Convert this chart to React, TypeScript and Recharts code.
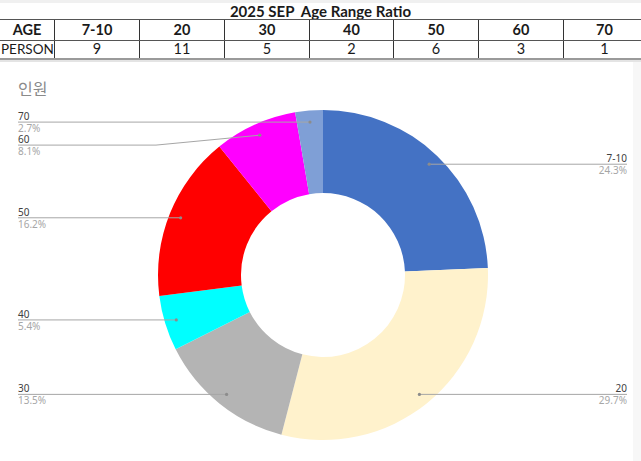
import React from "react";
import { Cell, Pie, PieChart } from "recharts";

const ages = ["7-10", "20", "30", "40", "50", "60", "70"];
const persons = [9, 11, 5, 2, 6, 3, 1];
const sliceColors = ["#4472C4", "#FFF2CC", "#B4B4B4", "#00FFFF", "#FF0000", "#FF00FF", "#7F9FD6"];

const W = 641;
const H = 461;
const CX = 323;
const CY = 275;
const OUTER = 165;
const INNER = 82;
const DOT_R = OUTER * 0.93;
const LEFT_X = 18;
const RIGHT_X = 627;
const GAP = 23;
const RAD = Math.PI / 180;

const data = ages.map((age, i) => ({ name: age, value: persons[i] }));
const total = persons.reduce((a, b) => a + b, 0);

// where each leader line starts and where its label sits
type LabelPos = { dx: number; dy: number; ly: number; right: boolean };
const labelPos: LabelPos[] = (() => {
  let acc = 0;
  const out: LabelPos[] = persons.map((v) => {
    const mid = ((acc + v / 2) / total) * 360; // clockwise from top
    acc += v;
    const dx = CX + DOT_R * Math.sin(mid * RAD);
    const dy = CY - DOT_R * Math.cos(mid * RAD);
    return { dx, dy, ly: dy, right: mid < 180 };
  });
  [true, false].forEach((side) => {
    const idx = out.map((p, i) => i).filter((i) => out[i].right === side);
    idx.sort((a, b) => out[a].dy - out[b].dy);
    let prev = -Infinity;
    idx.forEach((i) => {
      out[i].ly = Math.max(out[i].dy, prev + GAP);
      prev = out[i].ly;
    });
  });
  return out;
})();

const renderLabel = (props: any) => {
  const p = labelPos[props.index];
  if (!p) return null;
  const elbowX = p.right ? CX + OUTER + 2 : CX - OUTER - 2;
  const endX = p.right ? RIGHT_X : LEFT_X;
  const pct = ((persons[props.index] / total) * 100).toFixed(1) + "%";
  const anchor = p.right ? "end" : "start";
  return (
    <g key={`lbl-${props.index}`}>
      <polyline
        points={`${p.dx},${p.dy} ${elbowX},${p.ly} ${endX},${p.ly}`}
        fill="none"
        stroke="#a6a6a6"
        strokeWidth={1}
      />
      <circle cx={p.dx} cy={p.dy} r={1.6} fill="#8c8c8c" />
      <text x={endX} y={p.ly - 2} textAnchor={anchor} fontSize={10} fill="#404040" fontFamily="Noto Sans, sans-serif">
        {ages[props.index]}
      </text>
      <text x={endX} y={p.ly + 10} textAnchor={anchor} fontSize={10} fill="#a6a6a6" fontFamily="Noto Sans, sans-serif">
        {pct}
      </text>
    </g>
  );
};

const colLefts = [0, 55, 140, 225, 310, 394, 479, 564];
const colRight = 646;

const cellStyle = (i: number, top: number, h: number): React.CSSProperties => ({
  position: "absolute",
  left: colLefts[i],
  top,
  width: (i + 1 < colLefts.length ? colLefts[i + 1] : colRight) - colLefts[i],
  height: h,
  boxSizing: "border-box",
  borderRight: "1px solid #333",
  display: "flex",
  alignItems: "center",
  justifyContent: "center",
  fontSize: 14.5,
  lineHeight: 1,
});

export default function App() {
  return (
    <div
      style={{
        position: "fixed",
        left: 0,
        top: 0,
        width: W,
        height: H,
        background: "#fff",
        overflow: "hidden",
        fontFamily: "Lato, 'Noto Sans', sans-serif",
        color: "#1a1a1a",
      }}
    >
      <div style={{ position: "absolute", left: 0, top: 0, width: W, height: 3, background: "#f0f0f0" }} />
      <div style={{ position: "absolute", left: 633, top: 62, width: 8, height: H - 62, background: "#f7f7f7" }} />
      <div
        style={{
          position: "absolute",
          left: 0,
          top: 3,
          width: W,
          height: 17,
          textAlign: "center",
          fontWeight: 700,
          fontSize: 15,
          lineHeight: "17px",
        }}
      >
        2025 SEP&nbsp; Age Range Ratio
      </div>
      <div style={{ position: "absolute", left: 0, top: 19, width: W, height: 1, background: "#555" }} />
      <div style={{ position: "absolute", left: 0, top: 40, width: W, height: 1, background: "#555" }} />
      <div style={{ position: "absolute", left: 0, top: 58, width: W, height: 2, background: "#9a9a9a" }} />
      <div style={{ position: "absolute", left: 0, top: 60, width: W, height: 2, background: "#e4e4e4" }} />
      <div style={{ ...cellStyle(0, 20, 20), fontWeight: 700 }}>AGE</div>
      {ages.map((a, i) => (
        <div key={a} style={{ ...cellStyle(i + 1, 20, 20), fontWeight: 700 }}>
          {a}
        </div>
      ))}
      <div style={{ ...cellStyle(0, 41, 17), justifyContent: "flex-start", paddingLeft: 1, fontSize: 13.5 }}>PERSON</div>
      {persons.map((v, i) => (
        <div key={ages[i]} style={cellStyle(i + 1, 41, 17)}>
          {v}
        </div>
      ))}
      <div
        style={{
          position: "absolute",
          left: 18,
          top: 76,
          fontSize: 16,
          color: "#8a8a8a",
          fontFamily: "'Noto Sans CJK KR', sans-serif",
        }}
      >
        인원
      </div>
      <div style={{ position: "absolute", left: 0, top: 0 }}>
        <PieChart width={W} height={H} margin={{ top: 0, right: 0, bottom: 0, left: 0 }}>
          <Pie
            data={data}
            dataKey="value"
            nameKey="name"
            cx={CX}
            cy={CY}
            innerRadius={INNER}
            outerRadius={OUTER}
            startAngle={90}
            endAngle={-270}
            stroke="none"
            label={renderLabel}
            labelLine={false}
            isAnimationActive={false}
          >
            {data.map((d, i) => (
              <Cell key={d.name} fill={sliceColors[i]} />
            ))}
          </Pie>
        </PieChart>
      </div>
    </div>
  );
}
